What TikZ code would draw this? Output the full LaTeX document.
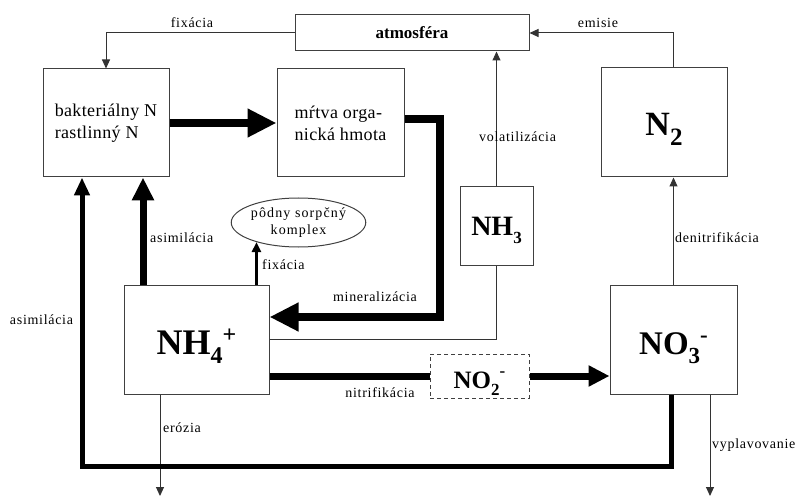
\documentclass[tikz,border=0pt]{standalone}
\usepackage{fontspec}
\setmainfont{Liberation Serif}
\newfontfamily\lblfont[LetterSpace=5]{Liberation Serif}
\newfontfamily\boxfont[LetterSpace=2]{Liberation Serif}
\newfontfamily\ellfont[LetterSpace=8]{Liberation Serif}
\usetikzlibrary{arrows.meta,shapes.geometric,calc}
\newcommand\chsub[3]{\raisebox{#1}{\fontsize{#2}{#2}\selectfont #3}}
\begin{document}
\begin{tikzpicture}[x=1pt,y=-1pt,
  box/.style={draw=black!75,line width=1pt,inner sep=0pt},
  chem/.style={box,text depth=0pt},
  lbl/.style={font=\lblfont\fontsize{14}{16}\selectfont,inner sep=0pt},
  plainline/.style={draw=black!80,line width=1pt},
  flow/.style={plainline,-{Triangle[length=9pt,width=8pt]}},
  arrbig/.style={draw=black,line width=8pt,-{Triangle[length=29pt,width=27pt]}},
  arrmid/.style={draw=black,line width=7pt,-{Triangle[length=23pt,width=21pt]}},
  arrnit/.style={draw=black,line width=7pt,-{Triangle[length=21pt,width=20pt]}},
  arrback/.style={draw=black,line width=5pt,-{Triangle[length=18pt,width=15pt]}},
  arrsmall/.style={draw=black,line width=3pt,-{Triangle[length=10pt,width=9pt]}},
]
\useasboundingbox (0,0) rectangle (795,497);

% nodes
\node[box,minimum width=126pt,minimum height=108pt,align=left,font={\boxfont\fontsize{18}{22}\selectfont}] (bakt) at (106,123) {bakteriálny N\\rastlinný N};
\node[box,minimum width=127pt,minimum height=108pt,align=left,font={\boxfont\fontsize{18}{22}\selectfont}] (mrtva) at (340.5,123) {mŕtva orga-\\nická hmota};
\node[box,minimum width=234pt,minimum height=36pt,font={\bfseries\fontsize{17}{20}\selectfont}] (atm) at (412,33) {atmosféra};
\node[chem,text height=27pt,minimum width=126pt,minimum height=109pt,font={\bfseries\fontsize{34}{34}\selectfont}] (n2) at (664,122.5) {N\chsub{-10pt}{25}{2}};
\node[chem,text height=20pt,minimum width=73pt,minimum height=78pt,font={\bfseries\fontsize{28}{28}\selectfont}] (nh3) at (496.5,226) {NH\chsub{-8pt}{17}{3}};
\node[chem,text height=29pt,minimum width=145pt,minimum height=109pt,font={\bfseries\fontsize{36}{36}\selectfont}] (nh4) at (196.5,339.5) {NH\chsub{-9pt}{24}{4}\chsub{12pt}{24}{+}};
\node[chem,text height=29pt,minimum width=127pt,minimum height=109pt,font={\bfseries\fontsize{33}{33}\selectfont}] (no3) at (673.5,339.5) {NO\chsub{-9pt}{23}{3}\chsub{12pt}{23}{-}};
\node[chem,text height=24pt,dash pattern=on 4pt off 3pt,minimum width=99pt,minimum height=44pt,font={\bfseries\fontsize{25}{25}\selectfont}] (no2) at (479.5,376) {NO\chsub{-7pt}{17}{2}\chsub{12pt}{17}{-}};
\node[draw=black!75,line width=1pt,ellipse,minimum width=113pt,minimum height=49pt,inner sep=0pt,align=center,font={\ellfont\fontsize{14}{17}\selectfont}] (ell) at (298.5,222.5) {pôdny sorpčný\\komplex};

% thin connectors
\draw[flow] (atm.west) -| (bakt.north);
\draw[flow] (n2.north -| no3.north) |- (atm.east);
\draw[flow] (nh3.north) -- (nh3.north |- atm.south);
\draw[plainline] (nh4.east) -| (nh3.south);
\draw[flow] (no3.north) -- (no3.north |- n2.south);
\coordinate (ero) at (160,496);
\coordinate (vyp) at (710,496);
\draw[flow] (nh4.south -| ero) -- (ero);
\draw[flow] (no3.south -| vyp) -- (vyp);

% thick connectors
\draw[arrbig] (bakt.east) -- (mrtva.west);
\draw[arrbig] ([yshift=4pt]mrtva.east) -- ++(35,0) |- ([yshift=22.5pt]nh4.east);
\draw[arrmid] ([xshift=-53.5pt]nh4.north) -- ([xshift=-53.5pt]nh4.north |- bakt.south);
\draw[arrsmall] (nh4.north -| ell.205) -- (ell.205);
\draw[draw=black,line width=7pt] (no2.west -| nh4.east) -- (no2.west);
\draw[arrnit] (no2.east) -- (no2.east -| no3.west);
\draw[arrback] ([xshift=-2.5pt]no3.south) -- ++(0,72) -| ([xshift=-24pt]bakt.south);

% labels
\node[lbl] (lfix) at (192,23) {fixácia};
\node[lbl] (lemi) at (598,23) {emisie};
\node[lbl,anchor=west] (lvol) at (479,137) {volatilizácia};
\node[lbl,anchor=west] (lden) at (675,238) {denitrifikácia};
\node[lbl] (lmin) at (375,297) {mineralizácia};
\node[lbl] (lnit) at (380,393) {nitrifikácia};
\node[lbl,anchor=west] (lasi) at (150,238) {asimilácia};
\node[lbl,anchor=west] (lfix2) at (262,265) {fixácia};
\node[lbl] (lasi2) at (41.5,320) {asimilácia};
\node[lbl,anchor=west] (lero) at (163,428) {erózia};
\node[lbl,anchor=west] (lvyp) at (712,445) {vyplavovanie};
\end{tikzpicture}
\end{document}
